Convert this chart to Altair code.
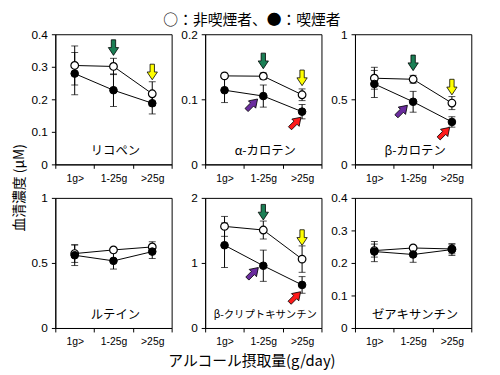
import json
import altair as alt
import pandas as pd

cats = ["1g>", "1-25g", ">25g"]
names = ["リコペン", "α-カロテン", "β-カロテン", "ルテイン", "β-クリプトキサンチン", "ゼアキサンチン"]
ymax = [0.4, 0.2, 1, 1, 2, 0.4]
yticks = [[0, 0.1, 0.2, 0.3, 0.4], [0, 0.1, 0.2], [0, 0.5, 1],
          [0, 0.5, 1], [0, 1, 2], [0, 0.1, 0.2, 0.3, 0.4]]

# non-smokers (open circles)
non_val = [[0.304, 0.301, 0.217], [0.136, 0.1355, 0.107], [0.662, 0.654, 0.471],
           [0.572, 0.600, 0.623], [1.562, 1.506, 1.059], [0.238, 0.246, 0.243]]
non_err = [[0.060, 0.025, 0.037], [0.004, 0.005, 0.009], [0.084, 0.030, 0.050],
           [0.068, 0.010, 0.040], [0.153, 0.138, 0.203], [0.020, 0.005, 0.015]]
# smokers (filled circles)
smk_val = [[0.279, 0.228, 0.188], [0.114, 0.105, 0.081], [0.618, 0.481, 0.326],
           [0.559, 0.516, 0.587], [1.272, 0.957, 0.662], [0.235, 0.226, 0.241]]
smk_err = [[0.065, 0.050, 0.033], [0.019, 0.017, 0.011], [0.104, 0.080, 0.040],
           [0.079, 0.063, 0.053], [0.342, 0.240, 0.128], [0.031, 0.024, 0.018]]

# arrows: (panel, x position in category units, y value, colour, angle)
arrow_panel = [0, 0, 1, 1, 1, 1, 2, 2, 2, 2, 4, 4, 4, 4]
arrow_x = [1.5, 2.5, 1.5, 2.5, 1.21, 2.33, 1.5, 2.5, 1.21, 2.30, 1.5, 2.5, 1.23, 2.32]
arrow_y = [0.359, 0.284, 0.159, 0.133, 0.092, 0.064, 0.78, 0.594, 0.412, 0.242,
           1.78, 1.39, 0.845, 0.473]
arrow_color = ["#1b7f55", "#ffff00", "#1b7f55", "#ffff00", "#6a2c9e", "#ff1a1a",
               "#1b7f55", "#ffff00", "#6a2c9e", "#ff1a1a",
               "#1b7f55", "#ffff00", "#6a2c9e", "#ff1a1a"]
arrow_angle = [0, 0, 0, 0, 225, 225, 0, 0, 225, 225, 0, 0, 225, 225]

legend_text = "○：非喫煙者、●：喫煙者"
y_title = "血清濃度 (μM)"
x_title = "アルコール摂取量(g/day)"

ARROW = "M-0.28,-1L0.28,-1L0.28,0L0.66,0L0,1L-0.66,0L-0.28,0Z"
JP = "Noto Sans CJK JP"
NUM = "Liberation Sans"
W, H = 118, 132

label_expr = json.dumps(cats + [""]) + "[datum.value]"


def panel(i):
    rows = []
    for k, c in enumerate(cats):
        rows.append(dict(x=k + 0.5, s="non", v=non_val[i][k],
                         lo=non_val[i][k] - non_err[i][k], hi=non_val[i][k] + non_err[i][k]))
        rows.append(dict(x=k + 0.5, s="smk", v=smk_val[i][k],
                         lo=smk_val[i][k] - smk_err[i][k], hi=smk_val[i][k] + smk_err[i][k]))
    df = pd.DataFrame(rows)
    xs = alt.Scale(domain=[0, 3], nice=False, zero=False)
    ys = alt.Scale(domain=[0, ymax[i]], nice=False)
    xax = alt.Axis(values=[0, 1, 2, 3], labelExpr=label_expr, labelOffset=W / 6,
                   labelFlush=False, labelOverlap=False, labelFont=NUM, labelFontSize=10.5,
                   tickSize=4, labelPadding=5, title=None, grid=False)
    yax = alt.Axis(values=yticks[i], format="~g", labelFont=NUM, labelFontSize=12,
                   tickSize=4, labelPadding=4, title=None, grid=False)
    X = alt.X("x:Q", scale=xs, axis=xax)
    Y = alt.Y("v:Q", scale=ys, axis=yax)
    base = alt.Chart(df)
    rule = base.mark_rule(color="black", strokeWidth=1).encode(
        x=X, y=alt.Y("lo:Q", scale=ys, axis=yax), y2="hi:Q")
    cap_lo = base.mark_tick(orient="horizontal", size=7, thickness=1, color="black").encode(
        x=X, y=alt.Y("lo:Q", scale=ys, axis=yax))
    cap_hi = base.mark_tick(orient="horizontal", size=7, thickness=1, color="black").encode(
        x=X, y=alt.Y("hi:Q", scale=ys, axis=yax))
    non = base.transform_filter(alt.datum.s == "non")
    smk = base.transform_filter(alt.datum.s == "smk")
    line_non = non.mark_line(color="black", strokeWidth=1).encode(x=X, y=Y)
    line_smk = smk.mark_line(color="black", strokeWidth=1).encode(x=X, y=Y)
    pt_non = non.mark_point(shape="circle", filled=True, fill="white", stroke="black",
                            strokeWidth=1.2, size=60, opacity=1).encode(x=X, y=Y)
    pt_smk = smk.mark_point(shape="circle", filled=True, fill="black", stroke="black",
                            strokeWidth=1, size=60, opacity=1).encode(x=X, y=Y)
    layers = [rule, cap_lo, cap_hi, line_non, line_smk, pt_non, pt_smk]
    adf = pd.DataFrame(dict(p=arrow_panel, x=arrow_x, v=arrow_y, c=arrow_color, a=arrow_angle))
    adf = adf[adf.p == i]
    if len(adf):
        layers.append(alt.Chart(adf).mark_point(
            shape=ARROW, filled=True, stroke="black", strokeWidth=0.8, size=250, opacity=1
        ).encode(x=X, y=Y, fill=alt.Fill("c:N", scale=None),
                 angle=alt.Angle("a:Q", scale=None)))
    ldf = pd.DataFrame(dict(x=[1.55], v=[ymax[i] * 0.1], t=[names[i]]))
    fs = 10.5 if len(names[i]) > 8 else 12.5
    layers.append(alt.Chart(ldf).mark_text(font=JP, fontSize=fs, color="black",
                                           baseline="middle").encode(x=X, y=Y, text="t:N"))
    return alt.layer(*layers).properties(width=W, height=H)


grid = alt.concat(*[panel(i) for i in range(6)], columns=3, spacing=34, bounds="flush")
grid = grid.properties(title=alt.TitleParams(y_title, orient="left", anchor="middle",
                                             font=JP, fontSize=14, fontWeight="normal",
                                             color="black", offset=4))
g2 = alt.vconcat(grid).properties(title=alt.TitleParams(x_title, orient="bottom", anchor="middle",
                                                        font=JP, fontSize=15, fontWeight="normal",
                                                        color="black", offset=7))
chart = alt.vconcat(g2).properties(title=alt.TitleParams(legend_text, orient="top", anchor="middle",
                                                         font=JP, fontSize=15, fontWeight="normal",
                                                         color="black", offset=0))
chart = chart.configure_view(stroke="black", strokeWidth=1).configure_axis(
    domainColor="black", tickColor="black", labelColor="black", domainWidth=1, tickWidth=1
).properties(padding={"left": 4, "top": 2, "right": 0, "bottom": 0})

chart.save("out.html", embed_options={"renderer": "svg", "actions": False})
